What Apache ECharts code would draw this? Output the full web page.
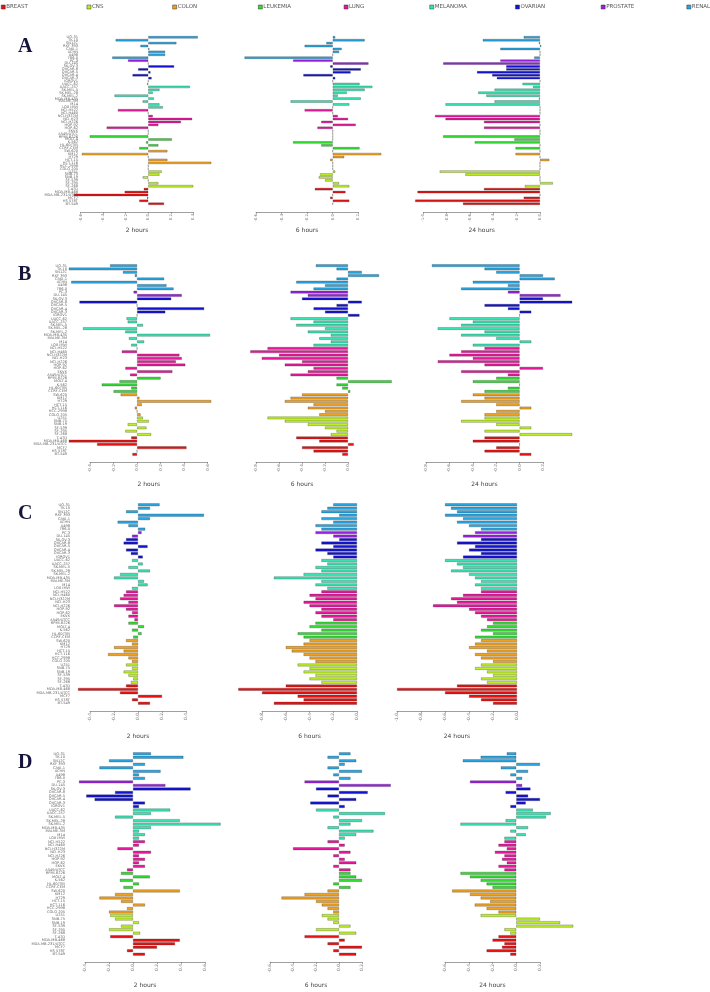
<!DOCTYPE html>
<html><head><meta charset="utf-8">
<script src="https://cdn.jsdelivr.net/npm/echarts@6/dist/echarts.min.js"></script>
<style>html,body{margin:0;padding:0;background:#fff}#c{width:710px;height:992px}</style>
</head><body><div id="c"></div>
<script>
// ---------- DATA ----------
const cellLines = ['UO-31','TK-10','SN12C','RXF 393','CAKI-1','ACHN','A498','786-0',
  'PC-3','DU-145',
  'SK-OV-3','OVCAR-8','OVCAR-5','OVCAR-4','OVCAR-3','IGROV1',
  'UACC-62','UACC-257','SK-MEL-5','SK-MEL-28','SK-MEL-2','MDA-MB-435','MALME-3M','M14','LOX IMVI',
  'NCI-H522','NCI-H460','NCI-H322M','NCI-H23','NCI-H226','HOP-92','HOP-62','EKVX','A549/ATCC',
  'RPMI-8226','MOLT-4','K-562','HL-60(TB)','CCRF-CEM',
  'SW-620','KM12','HT29','HCT-15','HCT-116','HCC-2998','COLO 205',
  'U251','SNB-75','SNB-19','SF-539','SF-295','SF-268',
  'T-47D','MDA-MB-468','MDA-MB-231/ATCC','MCF7','HS 578T','BT-549'];
const tissueOfLine = [].concat(
  Array(8).fill('RENAL'), Array(2).fill('PROSTATE'), Array(6).fill('OVARIAN'),
  Array(9).fill('MELANOMA'), Array(9).fill('LUNG'), Array(5).fill('LEUKEMIA'),
  Array(7).fill('COLON'), Array(6).fill('CNS'), Array(6).fill('BREAST'));
const legendNames = ['BREAST','CNS','COLON','LEUKEMIA','LUNG','MELANOMA','OVARIAN','PROSTATE','RENAL'];
const timeLabels = ['2 hours','6 hours','24 hours'];
const panelLetters = ['A','B','C','D'];

const A_2h = [0.44,-0.29,0.25,-0.07,0.01,0.15,0.15,-0.32, -0.18,0, 0.23,-0.09,0.02,-0.14,0.03,0,
  -0.01,0.37,0.10,0.04,-0.30,0.05,-0.05,0.10,0.13, -0.27,0,0.04,0.39,0.29,0.09,-0.37,0,0,
  -0.52,0.21,-0.02,0.09,-0.08, 0.17,-0.59,0,0.17,0.56,0,0, 0.12,0.10,-0.05,0,0.09,0.40,
  -0.04,-0.21,-0.66,-0.01,-0.08,0.14];
const A_6h = [0.02,0.25,-0.05,-0.22,0.07,0.05,0,-0.69, -0.31,0.28, -0.02,0.22,0.14,-0.23,0.02,0,
  0.21,0.31,0.25,0.11,0.04,0.22,-0.33,0.13,0, -0.22,0,0.04,0.12,-0.09,0.18,-0.12,0,0,
  0,0,-0.31,-0.09,0.21, 0,0.38,0.09,-0.02,0,0,0, 0.02,-0.10,-0.11,-0.06,0.05,0.13,
  -0.14,0.10,0,-0.02,0.13,0];
const A_24h = [-0.14,-0.49,-0.01,0.01,-0.34,0,0,-0.05, -0.34,-0.83, -0.29,-0.29,-0.54,-0.41,-0.37,0,
  -0.15,-0.06,-0.39,-0.53,-0.46,-0.01,-0.39,-0.81,0, 0,0,-0.9,-0.81,-0.48,0,-0.48,0,0,
  -0.83,-0.22,-0.56,0,-0.21, 0,-0.21,0,0.08,0,0,0, -0.86,-0.64,0,0,0.11,-0.13,
  -0.48,-1.05,0,-0.14,-1.07,-0.66];
const B_2h = [-0.23,-0.58,-0.12,-0.02,0.23,-0.56,0.25,0.31, -0.03,0.38, 0.29,-0.49,0,0.57,0.24,0,
  -0.09,-0.08,0.05,-0.46,-0.1,0.62,-0.07,0.06,-0.05, 0,-0.13,0.36,0.38,0.33,0.41,-0.1,0.3,-0.06,
  0.2,-0.15,-0.3,-0.05,-0.2, -0.14,0.02,0.63,0.04,-0.02,0,0.03, 0.05,0.1,-0.08,0.08,-0.1,0.12,
  -0.05,-0.58,-0.34,0.42,0,-0.04];
const B_6h = [-0.28,-0.1,0.12,0.27,-0.1,-0.45,-0.2,-0.3, -0.5,-0.35, -0.4,0.12,-0.1,-0.3,-0.2,0.1,
  -0.5,-0.3,-0.45,-0.2,-0.35,-0.15,-0.25,-0.15,-0.3, -0.7,-0.85,-0.6,-0.75,-0.4,-0.55,-0.3,-0.35,-0.5,
  -0.1,0.38,-0.1,-0.05,0.02, -0.4,-0.5,-0.55,-0.3,-0.35,-0.2,-0.25, -0.7,-0.55,-0.35,-0.2,-0.1,-0.15,
  -0.45,-0.25,0.05,-0.4,-0.3,-0.05];
const B_24h = [-0.75,-0.3,-0.2,0.2,0.3,-0.4,-0.1,-0.5, -0.1,0.35, 0.2,0.45,-0.3,-0.1,0.1,0,
  -0.6,-0.4,-0.5,-0.7,-0.3,-0.5,-0.2,0.1,-0.4, -0.3,-0.5,-0.6,-0.4,-0.7,-0.3,0.2,-0.5,-0.1,
  -0.2,-0.4,0,-0.1,-0.3, -0.4,-0.3,-0.5,-0.2,0.1,-0.2,-0.3, -0.3,-0.5,-0.2,0.1,-0.3,0.45,
  -0.3,-0.4,0,-0.2,-0.3,0.1];
const C_2h = [0.18,0.1,-0.1,0.55,0.1,-0.17,-0.08,0.06, 0.03,-0.05, -0.1,-0.12,0.08,-0.1,-0.06,0.04,
  -0.05,0.04,-0.08,0.1,-0.15,-0.2,0.05,0.08,-0.05, -0.1,-0.12,-0.15,-0.08,-0.2,-0.1,-0.05,-0.08,-0.03,
  -0.08,0.05,-0.05,0.03,-0.04, -0.1,-0.05,-0.2,-0.12,-0.25,-0.08,-0.05, -0.1,-0.05,-0.12,-0.08,-0.04,-0.06,
  -0.1,-0.5,-0.15,0.2,-0.05,0.1];
const C_6h = [-0.2,-0.25,-0.3,-0.15,-0.3,-0.2,-0.35,-0.3, -0.35,-0.2, -0.15,-0.3,-0.2,-0.35,-0.25,-0.2,
  -0.3,-0.25,-0.35,-0.3,-0.45,-0.7,-0.3,-0.35,-0.25, -0.3,-0.4,-0.35,-0.45,-0.4,-0.3,-0.35,-0.3,-0.2,
  -0.35,-0.4,-0.3,-0.5,-0.45, -0.4,-0.45,-0.6,-0.55,-0.45,-0.4,-0.35, -0.5,-0.4,-0.45,-0.35,-0.4,-0.3,
  -0.6,-1.0,-0.8,-0.5,-0.45,-0.7];
const C_24h = [-0.6,-0.55,-0.5,-0.6,-0.45,-0.5,-0.4,-0.3, -0.35,-0.45, -0.3,-0.5,-0.35,-0.4,-0.3,-0.45,
  -0.6,-0.5,-0.45,-0.55,-0.4,-0.35,-0.3,-0.35,-0.3, -0.3,-0.45,-0.55,-0.5,-0.7,-0.4,-0.35,-0.3,-0.25,
  -0.2,-0.25,-0.3,-0.2,-0.35, -0.3,-0.35,-0.4,-0.25,-0.35,-0.3,-0.2, -0.3,-0.35,-0.25,-0.2,-0.3,-0.25,
  -0.5,-1.0,-0.6,-0.4,-0.3,-0.2];
const D_2h = [0.15,0.42,-0.2,0.1,-0.28,0.23,0.05,0.1, -0.45,0.27, 0.48,-0.15,-0.39,-0.32,0.1,0.05,
  0.31,0.15,-0.15,0.39,0.73,0.15,0.05,0.1,0.05, 0.1,0.05,-0.13,0.15,0.05,0.1,0.05,0.1,-0.05,
  -0.1,0.14,-0.11,0.05,-0.08, 0.39,-0.15,-0.28,-0.1,0.1,-0.05,-0.2, -0.19,-0.15,0.05,-0.1,-0.2,0.06,
  -0.19,0.39,0.35,0.2,-0.05,0.1];
const D_6h = [0.1,-0.1,0.15,0.05,-0.1,0.2,-0.05,0.1, -0.3,0.45, -0.2,0.25,-0.1,0.15,-0.25,0.05,
  -0.2,0.4,-0.05,0.2,0.1,-0.1,0.3,0.15,0.05, -0.1,0.05,-0.4,0.1,-0.05,0.05,0.15,-0.05,0.1,
  0.1,0.15,0.2,-0.05,0.1, -0.1,-0.3,-0.5,-0.2,-0.15,-0.1,-0.05, -0.15,-0.1,-0.05,0.1,-0.2,0.15,
  -0.3,0.05,-0.1,0.2,-0.05,0.15];
const D_24h = [-0.08,-0.3,-0.45,0.2,-0.13,0.1,-0.05,0.05, -0.39,0.05, 0.12,-0.09,0.1,0.2,0.08,-0.05,
  0.14,0.29,0.25,-0.09,-0.47,0.1,-0.05,0.08,-0.1, -0.1,-0.15,-0.08,-0.18,-0.1,-0.12,-0.08,-0.15,-0.1,
  -0.47,-0.39,-0.3,-0.25,-0.2, -0.54,-0.39,-0.3,-0.22,-0.35,-0.25,-0.15, -0.3,0.2,0.37,0.48,-0.1,-0.05,
  -0.15,-0.2,-0.1,-0.12,-0.25,-0.05];
const panelValues = [[A_2h,A_6h,A_24h],[B_2h,B_6h,B_24h],[C_2h,C_6h,C_24h],[D_2h,D_6h,D_24h]];
// axis ranges [min,max] (tick step 0.2)
const axisRanges = [
  [[-0.6,0.4],[-0.6,0.2],[-1.0,0]],
  [[-0.4,0.6],[-0.8,0],[-0.8,0.2]],
  [[-0.4,0.4],[-0.8,0],[-1.0,0]],
  [[-0.4,0.6],[-0.6,0.2],[-0.6,0.2]]
];

// ---------- STYLE / LAYOUT ----------
const tissueColors = {RENAL:'#27a6e4', PROSTATE:'#9a1fe4', OVARIAN:'#1212d6', MELANOMA:'#36e3b3',
  LUNG:'#e8189c', LEUKEMIA:'#31dc31', COLON:'#f0a11e', CNS:'#bdf022', BREAST:'#e81212'};
const panelRows = [ {top:35.8, height:169.4, gap:6.8, nameGap:15, tickFont:4},
                    {top:264, height:192, gap:6, nameGap:19, tickFont:4.2},
                    {top:503, height:202, gap:6, nameGap:22, tickFont:4.4},
                    {top:752, height:204, gap:6, nameGap:20, tickFont:4.4} ];
const panelX = [
  [[80.7,193.3],[256,358.3],[423.3,540]],
  [[90,207.7],[256,348],[426,543]],
  [[90,186],[262,357],[397,517]],
  [[85,205],[270,362],[445,540]]
];
const labelMargin = [2.7, 23, 20, 20];

const grids=[], xAxes=[], yAxes=[], series=[], graphics=[];
let k=0;
for (let p=0;p<4;p++){
  for (let s=0;s<3;s++){
    const [x0,x1]=panelX[p][s], r=panelRows[p], [mn,mx]=axisRanges[p][s];
    grids.push({left:x0, top:r.top, width:x1-x0, height:r.height, containLabel:false});
    xAxes.push({type:'value', gridIndex:k, min:mn, max:mx, interval:0.2, position:'bottom', offset:r.gap,
      splitLine:{show:false},
      axisLine:{show:true, lineStyle:{color:'#777', width:0.7}},
      axisTick:{show:true, length:2, lineStyle:{color:'#777', width:0.6}},
      axisLabel:{rotate:90, fontSize:r.tickFont, color:'#777', margin:2, formatter:v=>v.toFixed(1),
        fontFamily:'DejaVu Sans'},
      name:timeLabels[s], nameLocation:'middle', nameGap:r.nameGap,
      nameTextStyle:{fontSize:6, color:'#444', fontFamily:'DejaVu Sans'}});
    yAxes.push({type:'category', gridIndex:k, data:cellLines, inverse:true,
      axisLine:{show:false}, axisTick:{show:false}, splitLine:{show:false},
      axisLabel:{show:s===0, interval:0, fontSize:3.6, color:'#666', margin:labelMargin[p],
        fontFamily:'DejaVu Sans'}});
    const vals=panelValues[p][s];
    series.push({type:'bar', xAxisIndex:k, yAxisIndex:k, clip:false, barCategoryGap:'17%',
      silent:true, animation:false,
      data: vals.map((v,i)=>({value:v, itemStyle:{color:tissueColors[tissueOfLine[i]],
        borderColor:'rgba(40,40,40,0.55)', borderWidth:0.5}}))});
    k++;
  }
  graphics.push({type:'text', left:18, top:panelRows[p].top+1,
    style:{text:panelLetters[p], font:'bold 20px "Liberation Serif"', fill:'#14143c'}});
}
// legend helper series (no data)
legendNames.forEach(n=>series.push({type:'line', name:n, xAxisIndex:0, yAxisIndex:0, data:[],
  itemStyle:{color:tissueColors[n]}, lineStyle:{color:tissueColors[n]}}));
const legends = legendNames.map((n,i)=>({data:[{name:n, icon:'rect',
    itemStyle:{color:tissueColors[n], borderColor:'#333', borderWidth:0.5}}],
  left:1+85.7*i, top:4, itemWidth:4, itemHeight:4, itemGap:1, padding:0,
  selectedMode:false, textStyle:{fontSize:5.5, color:'#555', padding:[0,0,0,-4], fontFamily:'DejaVu Sans'}}));

const chart = echarts.init(document.getElementById('c'), null, {renderer:'canvas'});
chart.setOption({animation:false, backgroundColor:'#fff', grid:grids, xAxis:xAxes, yAxis:yAxes,
  series:series, legend:legends, graphic:graphics});
</script></body></html>
